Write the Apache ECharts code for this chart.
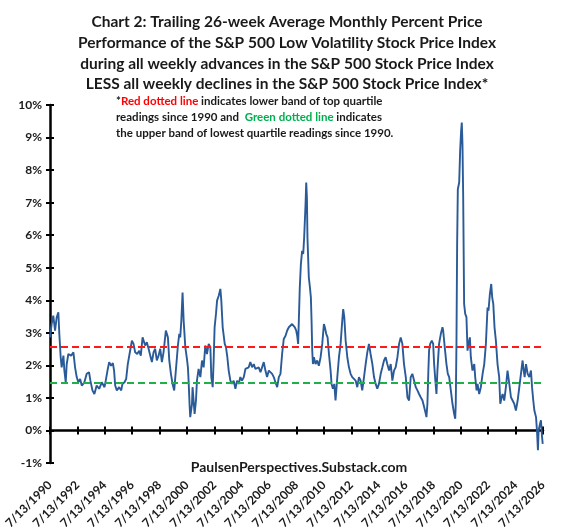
<!DOCTYPE html>
<html>
<head>
<meta charset="utf-8">
<script src="https://cdn.jsdelivr.net/npm/echarts@6/dist/echarts.min.js"></script>
<style>
  html, body { margin: 0; padding: 0; background: #fff; }
  #chart { width: 565px; height: 527px; }
</style>
</head>
<body>
<div id="chart"></div>
<script>
/* years since 7/13/1990 */
const yearsSince1990 = [
  0, 0.12, 0.24, 0.37, 0.49, 0.61, 0.68, 0.78, 0.85, 0.98, 1.05, 1.15, 1.22, 1.34, 1.54, 1.71, 1.83, 1.95,
  2.07, 2.2, 2.32, 2.51, 2.68, 2.85, 2.95, 3.1, 3.24, 3.41, 3.59, 3.78, 3.98, 4.07, 4.22, 4.32, 4.46, 4.59,
  4.68, 4.76, 4.88, 5.05, 5.2, 5.29, 5.44, 5.56, 5.68, 5.85, 5.98, 6.1, 6.22, 6.37, 6.51, 6.63, 6.76, 6.85,
  6.95, 7.07, 7.2, 7.32, 7.44, 7.56, 7.68, 7.8, 7.93, 8.05, 8.17, 8.29, 8.46, 8.54, 8.61,
  8.71, 8.83, 8.95, 9.07, 9.15, 9.27, 9.34, 9.44, 9.51, 9.59, 9.68, 9.76, 9.88, 10.0, 10.07, 10.12, 10.2,
  10.24, 10.37, 10.41, 10.56, 10.66, 10.73, 10.85, 10.98, 11.1, 11.22, 11.34, 11.46, 11.59, 11.71, 11.78,
  11.88, 11.95, 12.02, 12.12, 12.2, 12.32, 12.44, 12.51, 12.61, 12.76, 12.85, 12.95, 13.05, 13.17, 13.29,
  13.41, 13.54, 13.66, 13.78, 13.9, 14.02, 14.15, 14.27, 14.39, 14.51, 14.63, 14.76, 14.88, 15.0, 15.12,
  15.24, 15.37, 15.49, 15.61, 15.73, 15.85, 15.98, 16.1, 16.22, 16.34, 16.46, 16.59, 16.71, 16.83, 16.95,
  17.07, 17.2, 17.32, 17.44,
  17.56, 17.68, 17.8, 17.88, 17.98, 18.05, 18.12, 18.17, 18.24, 18.32, 18.41, 18.49, 18.56, 18.66, 18.71,
  18.76, 18.8, 18.9, 18.98, 19.05, 19.1, 19.15, 19.2, 19.27, 19.39, 19.51, 19.63, 19.76, 19.88, 20.0, 20.07,
  20.17, 20.27, 20.37, 20.49, 20.56, 20.66, 20.76, 20.85, 20.98, 21.1, 21.22, 21.34, 21.41, 21.49, 21.59,
  21.71, 21.83, 21.95, 22.07, 22.2, 22.32, 22.44, 22.56, 22.68, 22.8, 22.93, 23.05, 23.17, 23.29, 23.41,
  23.54, 23.66, 23.78, 23.9, 24.02, 24.15, 24.27, 24.39, 24.51, 24.63, 24.76, 24.88, 25.0, 25.12, 25.24,
  25.37, 25.49, 25.61, 25.73, 25.85, 25.98, 26.1, 26.22,
  26.34, 26.46, 26.59, 26.71, 26.83, 26.95, 27.07, 27.2, 27.32, 27.44, 27.49, 27.56, 27.63, 27.68, 27.76,
  27.88, 27.98, 28.05, 28.12, 28.22, 28.29, 28.41, 28.54, 28.66, 28.71, 28.78, 28.85, 28.95, 29.05, 29.15,
  29.27, 29.39, 29.51, 29.59, 29.63, 29.68, 29.73, 29.78, 29.88, 29.95, 30.02, 30.07, 30.12, 30.17, 30.24,
  30.32, 30.41, 30.49, 30.56, 30.66, 30.73, 30.85, 30.98, 31.05, 31.15, 31.22, 31.34, 31.46, 31.59, 31.71,
  31.83, 31.95, 32.02, 32.12, 32.22, 32.29, 32.37, 32.46, 32.56, 32.68, 32.8, 32.88, 32.98, 33.05, 33.17,
  33.29, 33.41, 33.54, 33.66, 33.78, 33.9, 34.02, 34.15, 34.27, 34.39, 34.51, 34.59, 34.66, 34.76, 34.88,
  35.0, 35.12, 35.2, 35.29, 35.37, 35.49, 35.56, 35.63, 35.68, 35.78, 35.85, 35.93, 35.98
];

/* trailing 26-week average, percent */
const pctValues = [
  2.86, 3.27, 3.53, 3.07, 3.48, 3.63, 2.97, 2.25, 1.94, 2.3, 1.84, 1.48, 2.04, 2.35, 2.3, 2.4, 1.94, 1.64,
  1.48, 1.58, 1.38, 1.48, 1.74, 1.79, 1.53, 1.23, 1.12, 1.38, 1.28, 1.48, 1.33, 1.53, 1.89, 2.1, 1.99, 2.07,
  1.84, 1.38, 1.23, 1.33, 1.23, 1.43, 1.48, 1.58, 2.04, 2.45, 2.76, 2.66, 2.4, 2.35, 2.45, 2.3, 2.86, 2.91,
  2.61, 2.71, 2.51, 2.3, 2.1, 2.4, 2.51, 2.15, 2.3, 2.51, 2.1, 2.4, 3.07, 3.12, 2.86,
  2.15, 1.74, 1.43, 1.23, 1.64, 2.25, 2.61, 2.97, 2.86, 3.37, 4.24, 3.37, 2.56, 2.2, 1.94, 1.53, 0.72,
  0.41, 0.82, 1.33, 0.51, 0.92, 1.53, 1.89, 1.64, 2.15, 1.94, 2.61, 2.35, 2.66, 2.56, 1.64,
  1.33, 2.15, 3.17, 3.58, 3.99, 4.14, 4.35, 3.99, 3.17, 2.66, 2.56, 2.25, 1.84, 1.53, 1.43,
  1.53, 1.28, 1.53, 1.43, 1.64, 1.53, 1.64, 1.89, 1.84, 1.94, 2.1, 1.94, 2.04, 1.89, 1.84,
  1.94, 1.79, 1.84, 2.1, 1.84, 1.64, 1.84, 1.79, 1.74, 1.64, 1.48, 1.33, 1.64, 1.74, 2.35,
  2.81, 2.91, 3.07, 3.17,
  3.12, 3.27, 3.32, 3.17, 3.07, 2.91, 2.66, 3.37, 4.4, 5.11, 5.52, 5.42, 5.93, 6.95, 7.62,
  7.16, 5.93, 4.7, 4.4, 4.09, 3.37, 2.45, 2.04, 2.25, 2.04, 2.15, 1.99, 2.25, 2.66, 3.27, 3.17,
  2.97, 2.86, 2.35, 1.84, 1.43, 1.28, 1.43, 0.92, 1.64, 2.25, 2.66, 3.37, 3.73, 3.48, 2.76,
  2.25, 1.94, 1.74, 1.64, 1.58, 1.53, 1.33, 1.64, 1.53, 1.23, 1.64, 2.04, 2.4, 2.66, 2.35,
  2.04, 1.64, 1.43, 1.28, 1.43, 1.74, 1.94, 2.15, 2.25, 2.04, 1.84, 2.04, 1.53, 1.84, 1.94,
  2.25, 2.66, 2.86, 2.66, 2.04, 1.64, 1.02, 0.92,
  1.64, 1.74, 1.53, 1.33, 1.23, 1.12, 1.02, 0.92, 0.72, 0.51, 0.41, 0.82, 1.84, 2.45, 2.66,
  2.76, 2.66, 2.04, 1.64, 1.12, 1.84, 2.66, 2.97, 3.17, 3.07, 2.76, 2.45, 2.04, 1.74, 1.64,
  1.23, 0.82, 0.51, 0.36, 0.82, 2.66, 5.73, 7.41, 7.62, 8.59, 9.2, 9.46, 8.79, 7.26, 3.89,
  3.58, 3.48, 2.45, 2.66, 2.86, 2.25, 1.84, 2.04, 1.64, 1.23, 1.43, 1.12, 1.33, 1.74, 2.04,
  2.66, 3.78, 3.68, 4.19, 4.5, 4.09, 3.89, 3.17, 2.76, 2.04, 1.64, 0.82, 1.02, 1.12, 0.92,
  1.33, 1.84, 1.43, 1.02, 0.92, 0.82, 0.61, 0.92, 1.33, 1.74, 2.15, 1.84, 1.64, 2.04, 1.74,
  1.64, 1.84, 1.33, 0.92, 0.61, 0.41, 0.0, -0.61, 0.0, 0.2, 0.31, -0.2, -0.41
];

/* quartile bands */
const topQuartileBand = 2.56;
const lowQuartileBand = 1.46;

const yTicks = [-1, 0, 1, 2, 3, 4, 5, 6, 7, 8, 9, 10];

let myChart = echarts.init(document.getElementById("chart"));

let lineData = yearsSince1990.map(function (t, i) {
  return [t, pctValues[i]];
});

const FONT = "Lato";
const tickStyle = { color: "#000", width: 2 };

/* shared x scale: 2-year steps from 7/13/1990 */
function xScale(extra) {
  return Object.assign(
    { type: "value", min: 0, max: 36, interval: 2, position: "bottom", splitLine: { show: false } },
    extra
  );
}
function yScale(extra) {
  return Object.assign(
    { type: "value", min: yTicks[0], max: yTicks[yTicks.length - 1], interval: 1, position: "left", splitLine: { show: false } },
    extra
  );
}

let option = {
  backgroundColor: "#ffffff",
  animation: false,
  title: [
    {
      text: [
        "Chart 2: Trailing 26-week Average Monthly Percent Price",
        "Performance of the S&P 500 Low Volatility Stock Price Index",
        "during all weekly advances in the S&P 500 Stock Price Index",
        "LESS all weekly declines in the S&P 500 Stock Price Index*",
      ].join("\n"),
      left: 282,
      top: 7,
      textAlign: "center",
      textStyle: {
        fontFamily: FONT,
        fontWeight: "bold",
        fontSize: 15.5,
        lineHeight: 20.7,
        color: "#1a1a1a",
      },
    },
    {
      //note under the title
      text: [
        "*{r|Red dotted line} indicates lower band of top quartile",
        "readings since 1990 and  {g|Green dotted line} indicates",
        "the upper band of lowest quartile readings since 1990.",
      ].join("\n"),
      left: 111,
      top: 88,
      textStyle: {
        fontFamily: FONT,
        fontWeight: "bold",
        fontSize: 11.5,
        lineHeight: 16,
        color: "#1a1a1a",
        rich: {
          r: { color: "#ff0000", fontFamily: FONT, fontWeight: "bold", fontSize: 11.5 },
          g: { color: "#00b050", fontFamily: FONT, fontWeight: "bold", fontSize: 11.5 },
        },
      },
    },
    {
      text: "PaulsenPerspectives.Substack.com",
      left: 294,
      top: 455,
      textAlign: "center",
      textStyle: {
        fontFamily: FONT,
        fontWeight: "bold",
        fontSize: 14,
        color: "#1a1a1a",
      },
    },
  ],
  grid: {
    left: 50,
    right: 22,
    top: 105,
    bottom: 64,
    containLabel: false,
    outerBoundsMode: "none",
  },
  xAxis: [
    xScale({
      //date labels under the plot
      axisLine: { show: false, onZero: false },
      axisTick: { show: false },
      axisLabel: {
        rotate: 45,
        margin: 20,
        fontFamily: FONT,
        fontWeight: "bold",
        fontSize: 12,
        color: "#1a1a1a",
        formatter: function (v) {
          return "7/13/" + (1990 + v);
        },
      },
    }),
    xScale({
      //zero line with ticks
      axisLine: { show: true, onZero: true, onZeroAxisIndex: 0, lineStyle: { color: "#000", width: 2.5 } },
      axisTick: { show: true, length: 4, lineStyle: tickStyle },
      axisLabel: { show: false },
    }),
    xScale({
      axisLine: { show: false, onZero: true, onZeroAxisIndex: 0 },
      axisTick: { show: true, inside: true, length: 4, lineStyle: tickStyle },
      axisLabel: { show: false },
    }),
  ],
  yAxis: [
    yScale({
      axisLine: { show: true, onZero: false, lineStyle: { color: "#000", width: 2.5 } },
      axisTick: { show: true, length: 4, lineStyle: tickStyle },
      axisLabel: {
        margin: 8,
        fontFamily: FONT,
        fontWeight: "bold",
        fontSize: 12,
        color: "#1a1a1a",
        formatter: "{value}%",
      },
    }),
    yScale({
      axisLine: { show: false, onZero: false },
      axisTick: { show: true, inside: true, length: 4, lineStyle: tickStyle },
      axisLabel: { show: false },
    }),
  ],
  series: [
    {
      type: "line",
      xAxisIndex: 0,
      yAxisIndex: 0,
      data: lineData,
      showSymbol: false,
      symbol: "none",
      lineStyle: { color: "#2a5b98", width: 1.9 },
      z: 3,
      markLine: {
        silent: true,
        symbol: "none",
        label: { show: false },
        data: [
          { yAxis: topQuartileBand, lineStyle: { color: "#ff1a1a", width: 2, type: [7, 4] } },
          { yAxis: lowQuartileBand, lineStyle: { color: "#1fb04a", width: 2, type: [7, 4] } },
        ],
      },
    },
  ],
};
myChart.setOption(option);
</script>
</body>
</html>
